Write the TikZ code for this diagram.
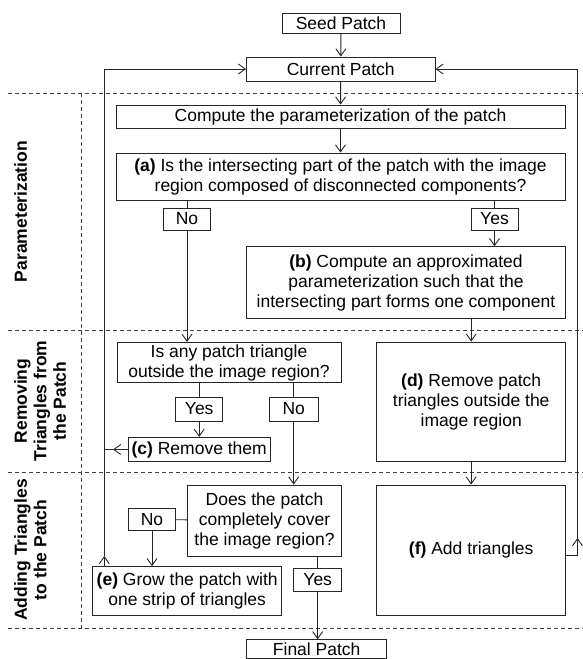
\documentclass[tikz,border=0pt]{standalone}
\usepackage{fontspec}
\setmainfont{Liberation Sans}
\usetikzlibrary{arrows.meta}
\begin{document}
\begin{tikzpicture}[x=1pt,y=-1pt,
  box/.style={draw=black!85, line width=0.9pt, inner sep=0pt, align=center, font=\fontsize{17.5}{20}\selectfont},
  lab/.style={font=\bfseries\fontsize{17.5}{19.5}\selectfont, align=center, rotate=90, anchor=north, inner sep=0pt},
  sepline/.style={line width=0.8pt, dash pattern=on 4pt off 3pt, black!75},
  arr/.style={-{Straight Barb[length=7pt,width=10pt]}, line width=0.9pt, black!85},
  ln/.style={line width=0.9pt, black!85}]
\useasboundingbox (0,0) rectangle (583,659);

% separators
\coordinate (s1l) at (8,93);   \coordinate (s1r) at (583,93);
\coordinate (s2l) at (8,330);  \coordinate (s2r) at (583,330);
\coordinate (s3l) at (8,472);  \coordinate (s3r) at (583,472);
\coordinate (s4l) at (8,628);  \coordinate (s4r) at (583,628);
\coordinate (vt) at (81,93);   \coordinate (vb) at (81,628);
\draw[sepline] (s1l) -- (s1r);
\draw[sepline] (s2l) -- (s2r);
\draw[sepline] (s3l) -- (s3r);
\draw[sepline] (s4l) -- (s4r);
\draw[sepline] (vt) -- (vb);

% side labels
\node[lab] (lp) at (14,211.5) {Parameterization};
\node[lab] (lr) at (14,401) {Removing\\Triangles from\\the Patch};
\node[lab] (la) at (14,550) {Adding Triangles\\to the Patch};

% nodes
\node[box, minimum width=118pt, minimum height=20pt] (seed) at (341,23) {Seed Patch};
\node[box, minimum width=188.5pt, minimum height=24pt] (cur) at (340.75,69) {Current Patch};
\node[box, minimum width=449pt, minimum height=23pt] (comp) at (340.5,116.5) {Compute the parameterization of the patch};
\node[box, minimum width=449pt, minimum height=47pt] (a) at (340.5,176.5) {\textbf{(a)} Is the intersecting part of the patch with the image\\region composed of disconnected components?};
\node[box, minimum width=47.5pt, minimum height=22pt] (noA) at (187,219) {No};
\node[box, minimum width=47pt, minimum height=22pt] (yesA) at (494.5,219) {Yes};
\node[box, minimum width=319pt, minimum height=71.6pt] (b) at (406,282.5) {\textbf{(b)} Compute an approximated\\parameterization such that the\\intersecting part forms one component};
\node[box, minimum width=224pt, minimum height=40.4pt] (isany) at (229,362.5) {Is any patch triangle\\outside the image region?};
\node[box, minimum width=189pt, minimum height=119pt] (d) at (471.2,401.5) {\textbf{(d)} Remove patch\\triangles outside the\\image region};
\node[box, minimum width=47pt, minimum height=24pt] (yesB) at (199.2,409) {Yes};
\node[box, minimum width=48.7pt, minimum height=24pt] (noB) at (293.7,409) {No};
\node[box, minimum width=141.7pt, minimum height=24.4pt] (c) at (199.2,449.5) {\textbf{(c)} Remove them};
\node[box, minimum width=154.4pt, minimum height=71pt] (does) at (264.5,520.5) {Does the patch\\completely cover\\the image region?};
\node[box, minimum width=47.4pt, minimum height=22.4pt] (noC) at (152,519.5) {No};
\node[box, minimum width=189pt, minimum height=48.3pt] (e) at (187.2,590.8) {\textbf{(e)} Grow the patch with\\one strip of triangles};
\node[box, minimum width=48pt, minimum height=23.4pt] (yesC) at (317.7,580) {Yes};
\node[box, minimum width=189pt, minimum height=130pt] (f) at (471.2,550) {\textbf{(f)} Add triangles};
\node[box, anchor=north, minimum width=140pt, minimum height=18.8pt, text height=12.6pt, text depth=0pt] (final) at (316.7,639.3) {Final Patch};

% connectors
\draw[arr] (seed) -- (cur);
\draw[arr] (cur) -- (comp);
\draw[arr] (comp) -- (a);
\draw[ln] (noA.north |- a.south) -- (noA.north);
\draw[ln] (yesA.north |- a.south) -- (yesA.north);
\draw[arr] (noA) -- (noA.south |- isany.north);
\draw[arr] (yesA) -- (yesA.south |- b.north);
\draw[arr] (d.north |- b.south) -- (d.north);
\draw[ln] (yesB.north |- isany.south) -- (yesB.north);
\draw[ln] (noB.north |- isany.south) -- (noB.north);
\draw[arr] (yesB) -- (c);
\draw[arr] (noB.south) -- (noB.south |- does.north);
\draw[ln] (noC) -- (does);
\draw[arr] (noC.south) -- (noC.south |- e.north);
\draw[arr] (d) -- (f);
\draw[ln] (yesC.north |- does.south) -- (yesC.north);
\draw[arr] (yesC.south) -- (yesC.south |- final.north);

% loops
\coordinate (Lb) at (104.3,556);
\coordinate (Lc) at (113,449.5);
\coordinate (Ll) at (104.3,449.5);
\draw[arr] (e.north -| Lb) -- (Lb);
\draw[arr] (Lb) |- (cur.west);
\draw[arr] (c.west) -- (Lc);
\draw[ln] (Lc) -- (Ll);
\coordinate (Rb) at (577.5,538);
\coordinate (fo) at (565.7,555);
\draw[ln] (fo) -| (Rb);
\draw[arr] (fo -| Rb) -- (Rb);
\draw[arr] (Rb) |- (cur.east);
\end{tikzpicture}
\end{document}
